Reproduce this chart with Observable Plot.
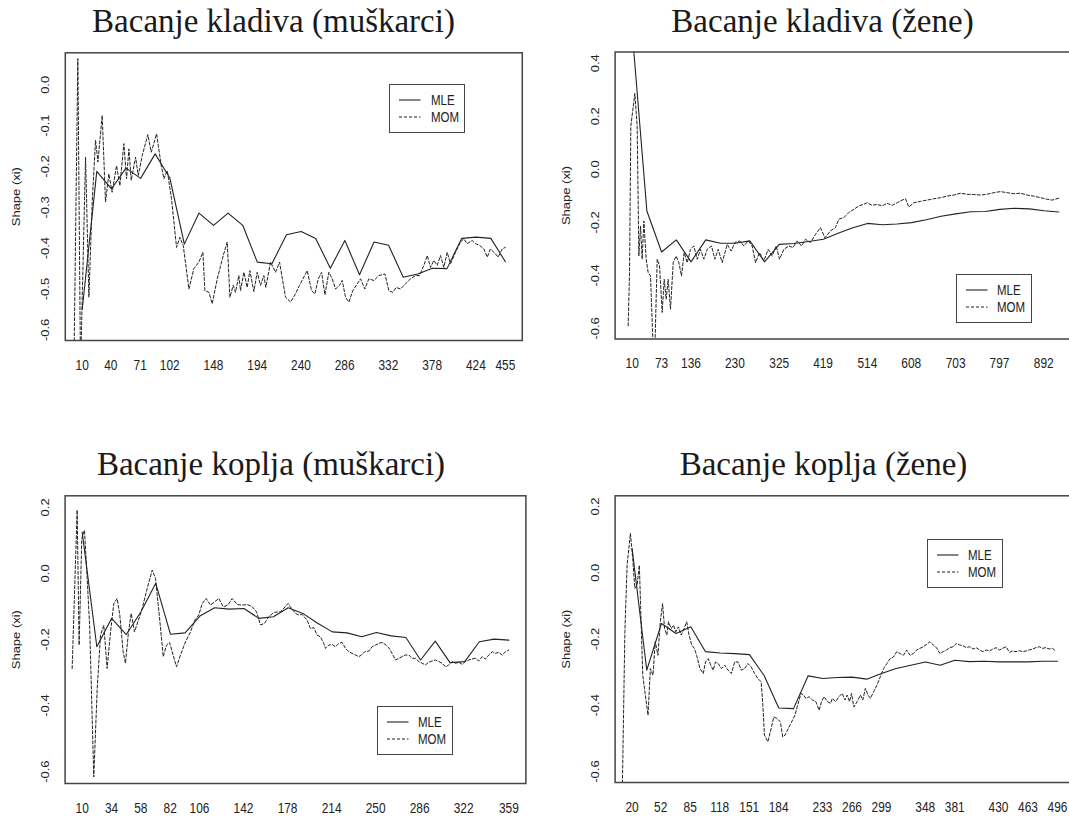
<!DOCTYPE html>
<html><head><meta charset="utf-8">
<script src="https://cdn.jsdelivr.net/npm/d3@7"></script>
<script src="https://cdn.jsdelivr.net/npm/@observablehq/plot@0.6"></script>
<style>
html,body{margin:0;padding:0;background:#fff;overflow:hidden;}
#root{position:relative;width:1069px;height:819px;overflow:hidden;background:#fff;}
.panel{position:absolute;}
.title{position:absolute;width:520px;text-align:center;font-family:"Liberation Serif","Times New Roman",serif;font-size:33px;line-height:33px;color:#1a1a1a;white-space:nowrap;}
.legend{position:absolute;width:76px;height:49px;border:1.5px solid #444;box-sizing:border-box;background:#fff;}
.legend svg{position:absolute;left:0;top:0;}
.legend span{position:absolute;font-family:"Liberation Sans",Arial,sans-serif;font-size:14px;line-height:14px;color:#222;transform-origin:left center;transform:scaleX(0.82);}
</style></head><body><div id="root"></div>
<script>
// ---------- text ----------
const titles = ["Bacanje kladiva (muškarci)", "Bacanje kladiva (žene)", "Bacanje koplja (muškarci)", "Bacanje koplja (žene)"];
const seriesNames = ["MLE", "MOM"];
const yAxisLabel = "Shape (xi)";

// ---------- tick values ----------
const p1XTicks = [10, 40, 71, 102, 148, 194, 240, 286, 332, 378, 424, 455];
const p2XTicks = [10, 73, 136, 230, 325, 419, 514, 608, 703, 797, 892];
const p3XTicks = [10, 34, 58, 82, 106, 142, 178, 214, 250, 286, 322, 359];
const p4XTicks = [20, 52, 85, 118, 151, 184, 233, 266, 299, 348, 381, 430, 463, 496];
const p1YTicks = [0, -0.1, -0.2, -0.3, -0.4, -0.5, -0.6];
const p2YTicks = [0.4, 0.2, 0, -0.2, -0.4, -0.6];
const p3YTicks = [0.2, 0, -0.2, -0.4, -0.6];
const p4YTicks = [0.2, 0, -0.2, -0.4, -0.6];

// ---------- series: [threshold index, shape xi] ----------
const p1Mle = [[10,-0.55],[25.3,-0.212],[40.7,-0.255],[56.0,-0.204],[71.4,-0.229],[86.7,-0.169],[102.1,-0.228],[117.4,-0.39],[132.8,-0.314],[148.1,-0.344],[163.4,-0.314],[178.8,-0.344],[194.1,-0.434],[209.5,-0.438],[224.8,-0.367],[240.2,-0.359],[255.5,-0.376],[270.9,-0.449],[286.2,-0.381],[301.6,-0.465],[316.9,-0.385],[332.2,-0.393],[347.6,-0.471],[362.9,-0.463],[378.3,-0.449],[393.6,-0.45],[409.0,-0.376],[424.3,-0.373],[439.7,-0.376],[455,-0.433]];
const p1Mom = [[1.2,-0.70],[5.4,0.064],[8.2,-0.70],[13.5,-0.177],[17.0,-0.52],[20.5,-0.287],[24.0,-0.136],[26.5,-0.189],[31.0,-0.075],[34.5,-0.287],[38.0,-0.218],[41.5,-0.263],[46.1,-0.198],[49.6,-0.247],[53.8,-0.144],[56.6,-0.23],[59.1,-0.157],[61.5,-0.234],[66.1,-0.177],[68.9,-0.222],[73.1,-0.173],[79.0,-0.122],[82.6,-0.165],[88.2,-0.12],[93.1,-0.198],[95.9,-0.23],[99.4,-0.21],[103.9,-0.279],[109.2,-0.398],[112.7,-0.373],[116.2,-0.393],[122.2,-0.5],[127.4,-0.45],[132.7,-0.434],[136.9,-0.41],[139.0,-0.504],[143.2,-0.508],[146.7,-0.536],[152.0,-0.475],[158.3,-0.418],[162.5,-0.385],[165.3,-0.52],[168.8,-0.491],[171.2,-0.508],[174.7,-0.467],[176.5,-0.504],[180.0,-0.459],[183.5,-0.496],[186.3,-0.455],[190.5,-0.506],[194.0,-0.459],[197.5,-0.491],[201.0,-0.467],[203.1,-0.496],[208.0,-0.434],[213.3,-0.459],[217.5,-0.434],[223.8,-0.52],[229.1,-0.532],[234.3,-0.512],[238.5,-0.491],[246.6,-0.455],[251.2,-0.504],[254.7,-0.512],[258.2,-0.475],[261.7,-0.459],[265.2,-0.514],[269.4,-0.459],[272.9,-0.475],[276.4,-0.5],[280.6,-0.491],[283.4,-0.479],[286.9,-0.52],[290.4,-0.532],[294.6,-0.504],[299.2,-0.487],[302.7,-0.475],[307.2,-0.5],[311.4,-0.475],[316.7,-0.479],[322.0,-0.467],[328.3,-0.463],[332.5,-0.504],[336.7,-0.508],[340.2,-0.496],[344.7,-0.5],[350.0,-0.487],[355.3,-0.475],[360.5,-0.467],[364.7,-0.467],[369.3,-0.442],[372.8,-0.418],[376.3,-0.447],[379.8,-0.43],[383.3,-0.442],[386.8,-0.418],[390.3,-0.447],[393.8,-0.41],[397.3,-0.438],[402.6,-0.41],[407.8,-0.385],[411.3,-0.377],[414.8,-0.389],[420.1,-0.381],[423.6,-0.389],[427.8,-0.393],[432.4,-0.402],[435.9,-0.422],[439.4,-0.402],[444.6,-0.414],[447.4,-0.422],[451.6,-0.402],[455,-0.398]];

const p2Mle = [[10,0.52],[41.5,-0.157],[73.0,-0.312],[104.6,-0.266],[136.1,-0.349],[167.6,-0.266],[199.1,-0.279],[230.6,-0.279],[262.1,-0.27],[293.7,-0.349],[325.2,-0.283],[356.7,-0.28],[388.2,-0.272],[419.7,-0.264],[451.2,-0.241],[482.8,-0.22],[514.3,-0.204],[545.8,-0.209],[577.3,-0.206],[608.8,-0.201],[640.3,-0.19],[671.9,-0.177],[703.4,-0.168],[734.9,-0.16],[766.4,-0.159],[797.9,-0.151],[829.4,-0.147],[861.0,-0.149],[892.5,-0.156],[924,-0.161]];
const p2Mom = [[1.4,-0.59],[4.3,-0.39],[7.1,0.163],[15.7,0.286],[20.7,0.163],[24.3,-0.327],[27.9,-0.214],[31.4,-0.339],[35,-0.195],[40,-0.339],[44.3,-0.39],[49.3,-0.402],[55,-0.68],[58.6,-0.68],[63.6,-0.339],[68.6,-0.364],[74.3,-0.54],[78.6,-0.415],[82.9,-0.49],[87.1,-0.415],[92.1,-0.528],[97.9,-0.352],[104.3,-0.327],[110,-0.352],[115.7,-0.402],[121.4,-0.314],[127.9,-0.352],[135,-0.302],[142.1,-0.289],[149.3,-0.339],[156.4,-0.302],[163.6,-0.339],[170.7,-0.302],[180,-0.289],[187.1,-0.339],[194.3,-0.302],[202.9,-0.352],[213.6,-0.283],[222.1,-0.308],[230,-0.276],[240,-0.27],[249.3,-0.289],[258.6,-0.27],[267.1,-0.289],[274.3,-0.352],[282.9,-0.314],[292.1,-0.345],[301.4,-0.302],[310,-0.327],[318.6,-0.289],[325.7,-0.339],[335,-0.302],[345.7,-0.289],[354.3,-0.295],[363.6,-0.27],[372.9,-0.289],[381.4,-0.264],[392.1,-0.276],[402.9,-0.245],[413.6,-0.22],[422.9,-0.258],[435,-0.232],[445.6,-0.22],[452.8,-0.188],[463.5,-0.182],[474.2,-0.163],[484.9,-0.151],[495.6,-0.138],[506.3,-0.132],[513.5,-0.126],[524.2,-0.136],[534.9,-0.132],[545.6,-0.138],[556.3,-0.128],[567,-0.136],[577.8,-0.126],[588.5,-0.116],[595.6,-0.111],[602.8,-0.142],[613.5,-0.126],[627.8,-0.121],[642.1,-0.116],[656.3,-0.111],[670.6,-0.107],[684.9,-0.101],[699.2,-0.097],[713.5,-0.09],[727.8,-0.094],[742.1,-0.095],[756.3,-0.097],[770.6,-0.094],[784.9,-0.088],[799.2,-0.084],[813.5,-0.088],[827.8,-0.092],[842.1,-0.09],[856.3,-0.097],[870.6,-0.101],[884.9,-0.107],[899.2,-0.113],[909.9,-0.116],[924,-0.109]];

const p3Mle = [[10,0.125],[22.0,-0.222],[34.1,-0.136],[46.1,-0.185],[58.1,-0.116],[70.2,-0.03],[82.2,-0.184],[94.2,-0.18],[106.3,-0.129],[118.3,-0.104],[130.3,-0.108],[142.4,-0.106],[154.4,-0.136],[166.4,-0.131],[178.5,-0.104],[190.5,-0.121],[202.6,-0.151],[214.6,-0.177],[226.6,-0.18],[238.7,-0.192],[250.7,-0.179],[262.7,-0.189],[274.8,-0.194],[286.8,-0.262],[298.8,-0.205],[310.9,-0.27],[322.9,-0.267],[334.9,-0.207],[347.0,-0.199],[359,-0.202]];
const p3Mom = [[1.8,-0.288],[5.9,0.192],[7.5,-0.217],[9.7,0.106],[11.9,0.131],[14.1,-0.015],[16.2,-0.166],[19.5,-0.616],[22.3,-0.348],[25.0,-0.187],[27.7,-0.157],[30.4,-0.288],[33.2,-0.177],[35.9,-0.091],[38.6,-0.076],[40.8,-0.126],[43.5,-0.237],[45.4,-0.272],[47.9,-0.177],[50.1,-0.121],[52.8,-0.177],[55.6,-0.146],[59.1,-0.106],[63.2,-0.045],[67.3,0.010],[70.0,-0.015],[73.6,-0.146],[76.3,-0.252],[79.0,-0.217],[81.5,-0.209],[83.6,-0.237],[87.2,-0.283],[90.4,-0.247],[94.5,-0.207],[98.6,-0.177],[102.2,-0.141],[105.4,-0.126],[108.2,-0.091],[111.4,-0.076],[115.0,-0.096],[118.3,-0.086],[121.8,-0.076],[125.4,-0.101],[129.2,-0.096],[132.7,-0.076],[136.8,-0.094],[140.9,-0.096],[145.0,-0.094],[149.1,-0.101],[152.6,-0.116],[155.9,-0.156],[159.2,-0.151],[162.7,-0.131],[166.8,-0.118],[172.2,-0.116],[178.5,-0.091],[181.2,-0.106],[184.5,-0.121],[187.2,-0.126],[189.9,-0.124],[194,-0.141],[196.7,-0.167],[199.5,-0.164],[202.2,-0.187],[204.9,-0.192],[207.6,-0.212],[209,-0.227],[211.7,-0.217],[214.5,-0.215],[217.2,-0.222],[219.9,-0.212],[222.6,-0.209],[225.4,-0.227],[228.1,-0.237],[230.8,-0.242],[233.5,-0.247],[236.3,-0.252],[238.5,-0.247],[241.2,-0.237],[244.5,-0.235],[247.2,-0.222],[249.9,-0.217],[252.6,-0.212],[255.4,-0.209],[258.6,-0.217],[260.8,-0.225],[263.5,-0.242],[266.3,-0.262],[269,-0.257],[271.7,-0.252],[274.5,-0.247],[277.2,-0.247],[279.9,-0.257],[282.6,-0.257],[285.4,-0.267],[288.1,-0.272],[290.8,-0.277],[293.5,-0.269],[296.3,-0.265],[299,-0.262],[301.7,-0.267],[304.5,-0.272],[307.2,-0.283],[309.9,-0.277],[312.6,-0.267],[315.4,-0.272],[318.1,-0.269],[320.8,-0.275],[323.5,-0.267],[326.3,-0.262],[329,-0.259],[331.7,-0.257],[334.4,-0.265],[337.2,-0.252],[339.9,-0.259],[342.6,-0.247],[345.4,-0.237],[348.1,-0.242],[350.8,-0.239],[353.5,-0.247],[356.3,-0.237],[359,-0.232]];

const p4Mle = [[20,0.073],[36.4,-0.294],[52.8,-0.153],[69.2,-0.183],[85.7,-0.163],[102.1,-0.238],[118.5,-0.242],[134.9,-0.244],[151.3,-0.247],[167.7,-0.31],[184.1,-0.408],[200.6,-0.41],[217.0,-0.311],[233.4,-0.319],[249.8,-0.316],[266.2,-0.315],[282.6,-0.321],[299.0,-0.304],[315.5,-0.289],[331.9,-0.279],[348.3,-0.269],[364.7,-0.279],[381.1,-0.264],[397.5,-0.268],[413.9,-0.267],[430.3,-0.269],[446.8,-0.269],[463.2,-0.269],[479.6,-0.267],[496,-0.267]];
const p4Mom = [[8.9,-0.68],[11.9,-0.178],[14.4,0.023],[18.1,0.119],[20.7,0.043],[23,-0.047],[25.6,-0.037],[28.1,0.023],[31.9,-0.309],[34.8,-0.369],[37.8,-0.43],[40.4,-0.289],[43.3,-0.309],[45.9,-0.208],[48.9,-0.249],[51.5,-0.148],[54.1,-0.093],[56.3,-0.168],[58.9,-0.188],[60.7,-0.148],[63.7,-0.168],[66.3,-0.158],[68.9,-0.178],[71.9,-0.163],[74.8,-0.188],[77.4,-0.173],[81.1,-0.148],[83.7,-0.188],[86.7,-0.218],[89.6,-0.228],[92.2,-0.249],[95.9,-0.289],[99.6,-0.304],[102.2,-0.269],[105.2,-0.259],[108.1,-0.279],[110.7,-0.294],[113.3,-0.269],[116.3,-0.274],[120,-0.289],[123.7,-0.279],[127.4,-0.294],[131.1,-0.304],[134.8,-0.269],[138.5,-0.269],[142.2,-0.294],[145.9,-0.289],[149.6,-0.274],[153.3,-0.284],[157,-0.304],[160.7,-0.319],[164.4,-0.329],[166.3,-0.4],[168.1,-0.49],[171.9,-0.51],[175.6,-0.47],[178.5,-0.435],[182.2,-0.44],[185.9,-0.45],[188.5,-0.495],[191.1,-0.49],[194.8,-0.47],[198.5,-0.45],[202.2,-0.43],[205.2,-0.4],[208.9,-0.364],[211.9,-0.369],[214.4,-0.379],[218.1,-0.374],[221.9,-0.384],[225.6,-0.389],[229.3,-0.415],[231.9,-0.389],[234.8,-0.374],[238.5,-0.389],[242.2,-0.394],[244,-0.379],[247.7,-0.389],[251.4,-0.374],[255.1,-0.364],[258.1,-0.384],[260.7,-0.369],[263.3,-0.389],[265.5,-0.364],[268.1,-0.405],[271.8,-0.389],[275.5,-0.369],[278.1,-0.384],[281,-0.349],[284,-0.369],[286.6,-0.379],[290.3,-0.359],[294,-0.339],[297.7,-0.314],[301.4,-0.289],[305.1,-0.274],[308.8,-0.259],[312.5,-0.254],[316.2,-0.238],[319.9,-0.244],[323.6,-0.249],[327.3,-0.233],[331,-0.249],[334.7,-0.244],[338.4,-0.233],[342.2,-0.228],[345.9,-0.223],[349.6,-0.216],[353.3,-0.208],[357,-0.218],[360.7,-0.226],[364.4,-0.244],[368.1,-0.238],[371.8,-0.233],[375.5,-0.226],[379.2,-0.223],[382.9,-0.213],[386.6,-0.218],[390.3,-0.22],[394,-0.226],[397.7,-0.223],[401.4,-0.23],[405.1,-0.226],[408.8,-0.233],[412.5,-0.238],[416.2,-0.233],[419.9,-0.236],[423.6,-0.23],[427.3,-0.226],[431,-0.233],[434.7,-0.228],[438.4,-0.223],[442.2,-0.24],[445.9,-0.236],[449.6,-0.238],[453.3,-0.235],[457,-0.238],[460.7,-0.236],[464.4,-0.233],[468.1,-0.23],[471.8,-0.226],[475.5,-0.223],[479.2,-0.228],[482.9,-0.226],[486.6,-0.23],[490.3,-0.228],[494,-0.236]];

// ---------- layout (pixels) ----------
const panels = [
  {title: titles[0], mle: p1Mle, mom: p1Mom, xTicks: p1XTicks, yTicks: p1YTicks, xDomain: [-7.8, 472.8], yDomain: [-0.626, 0.0784],
   box: {left: 0, top: 45, width: 534, height: 345}, frame: {left: 64.8, right: 521.8, top: 52.3, bottom: 340},
   titleCenter: 273.5, titleBaseline: 33, legend: {left: 389.3, top: 84.3}},
  {title: titles[1], mle: p2Mle, mom: p2Mom, xTicks: p2XTicks, yTicks: p2YTicks, xDomain: [-26.6, 960.6], yDomain: [-0.640, 0.4426],
   box: {left: 534, top: 45, width: 560, height: 345}, frame: {left: 614.6, right: 1075.3, top: 51.5, bottom: 338.5},
   titleCenter: 822.5, titleBaseline: 33, legend: {left: 955.7, top: 274.3}},
  {title: titles[2], mle: p3Mle, mom: p3Mom, xTicks: p3XTicks, yTicks: p3YTicks, xDomain: [-3.96, 372.96], yDomain: [-0.636, 0.235],
   box: {left: 0, top: 488, width: 534, height: 331}, frame: {left: 64.6, right: 525.4, top: 495.3, bottom: 783},
   titleCenter: 271, titleBaseline: 476, legend: {left: 376.7, top: 706.3}},
  {title: titles[3], mle: p4Mle, mom: p4Mom, xTicks: p4XTicks, yTicks: p4YTicks, xDomain: [0.96, 515.04], yDomain: [-0.633, 0.2325],
   box: {left: 534, top: 488, width: 560, height: 331}, frame: {left: 614.6, right: 1074, top: 495.3, bottom: 782},
   titleCenter: 823.5, titleBaseline: 476, legend: {left: 926.7, top: 539}}
];

const fmtY = d => (d < 0 ? "-" : "") + Math.abs(d).toFixed(1);
const root = document.getElementById("root");
const sans = "'Liberation Sans', Arial, sans-serif";

panels.forEach(p => {
  const b = p.box, f = p.frame;
  const chart = Plot.plot({
    width: b.width, height: b.height,
    marginLeft: f.left - b.left, marginRight: b.left + b.width - f.right,
    marginTop: f.top - b.top, marginBottom: b.top + b.height - f.bottom,
    x: {type: "linear", domain: p.xDomain, axis: null},
    y: {type: "linear", domain: p.yDomain, axis: null},
    style: {background: "transparent", fontFamily: sans, color: "#222", maxWidth: "none", overflow: "visible"},
    marks: [
      Plot.line(p.mom, {x: d => d[0], y: d => d[1], stroke: "#222", strokeWidth: 1, strokeDasharray: "3,2", clip: true}),
      Plot.line(p.mle, {x: d => d[0], y: d => d[1], stroke: "#222", strokeWidth: 1.1, clip: true}),
      Plot.text(p.xTicks, {x: d => d, text: d => String(d), frameAnchor: "bottom", dy: 25, textAnchor: "middle", lineAnchor: "middle", fontSize: 14, fill: "#222"}),
      Plot.text(p.yTicks, {y: d => d, text: fmtY, frameAnchor: "left", dx: -19.5, rotate: -90, textAnchor: "middle", lineAnchor: "middle", fontSize: 13, fill: "#222"}),
      Plot.text([yAxisLabel], {text: d => d, frameAnchor: "left", dx: -49, rotate: -90, textAnchor: "middle", lineAnchor: "middle", fontSize: 13, fill: "#222"}),
      Plot.frame({stroke: "#444", strokeWidth: 1.5})
    ]
  });
  // horizontally condensed lettering, as in the source picture
  chart.querySelectorAll("text").forEach(t => {
    const tr = t.getAttribute("transform");
    if (tr == null) return;
    t.setAttribute("transform", tr + (tr.includes("rotate") ? " scale(1,0.85)" : " scale(0.85,1)"));
  });
  const holder = document.createElement("div");
  holder.className = "panel";
  holder.style.left = b.left + "px"; holder.style.top = b.top + "px";
  holder.style.width = b.width + "px"; holder.style.height = b.height + "px";
  holder.appendChild(chart);
  root.appendChild(holder);

  // title
  const t = document.createElement("div");
  t.className = "title";
  t.textContent = p.title;
  t.style.left = (p.titleCenter - 260) + "px";
  t.style.top = (p.titleBaseline - 27.6) + "px";
  root.appendChild(t);

  // legend
  const lg = document.createElement("div");
  lg.className = "legend";
  lg.style.left = p.legend.left + "px"; lg.style.top = p.legend.top + "px";
  const ns = "http://www.w3.org/2000/svg";
  const s = document.createElementNS(ns, "svg");
  s.setAttribute("width", 73); s.setAttribute("height", 46);
  [[15, null], [32, "3,2"]].forEach(([yy, dash]) => {
    const l = document.createElementNS(ns, "line");
    l.setAttribute("x1", 9); l.setAttribute("x2", 30.5);
    l.setAttribute("y1", yy); l.setAttribute("y2", yy);
    l.setAttribute("stroke", "#222"); l.setAttribute("stroke-width", 1.1);
    if (dash) l.setAttribute("stroke-dasharray", dash);
    s.appendChild(l);
  });
  lg.appendChild(s);
  seriesNames.forEach((name, i) => {
    const sp = document.createElement("span");
    sp.textContent = name;
    sp.style.left = "40.5px";
    sp.style.top = ((i === 0 ? 15 : 32) - 7.5) + "px";
    lg.appendChild(sp);
  });
  root.appendChild(lg);
});
</script></body></html>
